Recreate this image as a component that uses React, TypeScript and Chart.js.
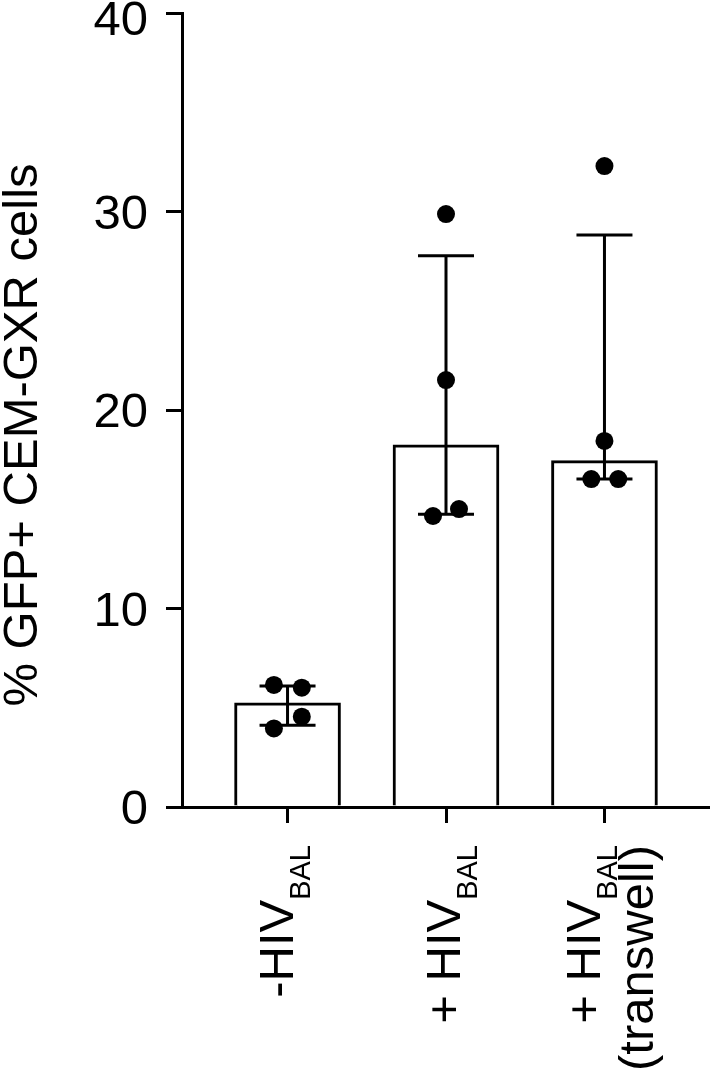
import React, { useEffect, useRef } from "react";
import { Chart, registerables } from "chart.js";

Chart.register(...registerables);

// ---- data ----
const groupMain = ["-HIV", "+ HIV", "+ HIV"];
const groupSub = ["BAL", "BAL", "BAL"];
const groupLine2 = ["", "", "(transwell)"];
const medians = [5.25, 18.25, 17.45];
const q1Values = [4.12, 14.75, 16.52];
const q3Values = [6.1, 27.77, 28.82];
const pointsG0 = [6.15, 6.01, 4.55, 3.96];
const pointsG1 = [29.87, 21.51, 14.66, 15.01];
const pointsG2 = [32.29, 18.44, 16.52, 16.52];
const yTicks = [0, 10, 20, 30, 40];
const yTitle = "% GFP+ CEM-GXR cells";

// ---- styling (horizontal scatter of the dots, label nudges) ----
const jitter = [
  [-0.086, 0.09, 0.09, -0.086],
  [0, 0, -0.082, 0.082],
  [0, 0, -0.083, 0.087],
];
const labelShift = [5, 14, -4];
const FONT = '"Liberation Sans", Arial, Helvetica, sans-serif';

const annotPlugin = {
  id: "annot",
  afterDatasetsDraw(chart: any) {
    const { ctx, scales } = chart;
    const x = scales.x;
    const y = scales.y;
    ctx.save();
    ctx.strokeStyle = "#000";
    ctx.lineWidth = 3;
    ctx.lineCap = "butt";
    medians.forEach((_, i) => {
      const px = x.getPixelForValue(i);
      const top = y.getPixelForValue(q3Values[i]);
      const bot = y.getPixelForValue(q1Values[i]);
      ctx.beginPath();
      ctx.moveTo(px, top);
      ctx.lineTo(px, bot);
      ctx.moveTo(px - 28, top);
      ctx.lineTo(px + 28, top);
      ctx.moveTo(px - 28, bot);
      ctx.lineTo(px + 28, bot);
      ctx.stroke();
    });
    ctx.restore();
  },
  afterDraw(chart: any) {
    const { ctx, scales } = chart;
    const x = scales.x;
    const y = scales.y;
    ctx.save();
    ctx.fillStyle = "#000";
    ctx.font = `49px ${FONT}`;
    ctx.textAlign = "right";
    ctx.textBaseline = "alphabetic";
    yTicks.forEach((t) => {
      const py = y.getPixelForValue(t);
      ctx.fillText(String(t), 148, Math.max(py + 17, 35));
    });

    // y title
    ctx.save();
    const cy = (chart.chartArea.top + chart.chartArea.bottom) / 2 + 25;
    ctx.translate(37, cy);
    ctx.rotate(-Math.PI / 2);
    ctx.textAlign = "center";
    ctx.fillText(yTitle, 0, 0);
    ctx.restore();

    // x labels
    const end = x.bottom + 22;
    groupMain.forEach((m, i) => {
      const bx = x.getPixelForValue(i) + labelShift[i];
      ctx.save();
      ctx.translate(bx, end);
      ctx.rotate(-Math.PI / 2);
      ctx.textAlign = "right";
      ctx.font = `29px ${FONT}`;
      ctx.fillText(groupSub[i], 0, 17);
      const sw = ctx.measureText(groupSub[i]).width;
      ctx.font = `49px ${FONT}`;
      ctx.fillText(m, -sw, 0);
      if (groupLine2[i]) ctx.fillText(groupLine2[i], 0, 53);
      ctx.restore();
    });
    ctx.restore();
  },
};

export default function App() {
  const ref = useRef<HTMLCanvasElement | null>(null);

  useEffect(() => {
    if (!ref.current) return;
    const pointData = [pointsG0, pointsG1, pointsG2].flatMap((arr, g) =>
      arr.map((v, k) => ({ x: g + jitter[g][k], y: v }))
    );
    const barData = medians.map((m, i) => ({ x: i, y: m }));

    const chart = new Chart(ref.current, {
      type: "bar",
      data: {
        datasets: [
          {
            type: "scatter",
            data: pointData,
            backgroundColor: "#000",
            borderWidth: 0,
            pointRadius: 9,
            pointHoverRadius: 9,
            order: 1,
          } as any,
          {
            type: "bar",
            data: barData,
            backgroundColor: "#fff",
            borderColor: "#000",
            borderWidth: 3,
            borderSkipped: "start",
            barThickness: 106,
            order: 2,
          } as any,
        ],
      },
      options: {
        responsive: false,
        animation: false,
        devicePixelRatio: 1,
        layout: { autoPadding: false, padding: { left: 166, top: 13, right: 0, bottom: 252 } },
        plugins: {
          legend: { display: false },
          tooltip: { enabled: false },
        },
        scales: {
          x: {
            type: "linear",
            min: -0.666,
            max: 2.666,
            offset: false,
            afterBuildTicks: (scale: any) => {
              scale.ticks = medians.map((_, i) => ({ value: i }));
            },
            ticks: { display: false },
            grid: {
              display: true,
              offset: false,
              drawOnChartArea: false,
              drawTicks: true,
              tickLength: 16,
              lineWidth: 3,
              tickWidth: 3,
              color: "#000",
              tickColor: "#000",
            },
            border: { display: true, color: "#000", width: 3 },
          },
          y: {
            type: "linear",
            min: 0,
            max: 40,
            afterBuildTicks: (scale: any) => {
              scale.ticks = yTicks.map((v) => ({ value: v }));
            },
            ticks: { display: false },
            grid: {
              display: true,
              drawOnChartArea: false,
              drawTicks: true,
              tickLength: 16,
              lineWidth: 3,
              tickWidth: 3,
              color: "#000",
              tickColor: "#000",
            },
            border: { display: true, color: "#000", width: 3 },
          },
        },
      } as any,
      plugins: [annotPlugin],
    });
    return () => chart.destroy();
  }, []);

  return (
    <div style={{ position: "absolute", left: 0, top: 0, width: 710, height: 1075, background: "#fff" }}>
      <canvas ref={ref} width={710} height={1075} style={{ display: "block" }} />
    </div>
  );
}
